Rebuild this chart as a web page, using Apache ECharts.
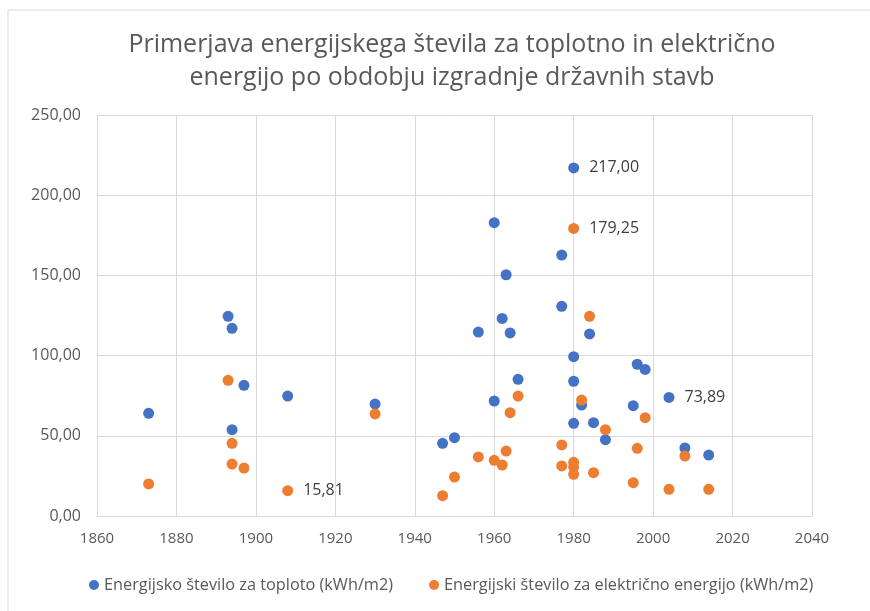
<!DOCTYPE html>
<html>
<head>
<meta charset="utf-8">
<script src="https://cdn.jsdelivr.net/npm/echarts@6/dist/echarts.min.js"></script>
<style>
    html, body { margin: 0; padding: 0; background: #fff; }
    #chart { width: 870px; height: 611px; }
</style>
</head>
<body>
<div id="chart"></div>
<script>
// 数据：建造年份 + 能耗
const heatYears = [1873, 1893, 1894, 1894, 1897, 1908, 1930, 1947, 1950, 1956, 1960, 1960, 1962, 1963, 1964, 1966,
    1977, 1977, 1980, 1980, 1980, 1980, 1982, 1984, 1985, 1988, 1995, 1996, 1998, 2004, 2008, 2014];
const heatValues = [64.0, 124.5, 117.0, 53.8, 81.5, 74.8, 69.8, 45.3, 48.8, 114.7, 182.9, 71.7, 123.2, 150.4, 114.1, 85.2,
    162.7, 130.7, 217.0, 99.3, 84.0, 57.8, 69.2, 113.5, 58.2, 47.6, 68.8, 94.6, 91.4, 73.89, 42.4, 38.0];

const elecYears = [1873, 1893, 1894, 1894, 1897, 1908, 1930, 1947, 1950, 1956, 1960, 1962, 1963, 1964, 1966,
    1977, 1977, 1980, 1980, 1980, 1980, 1982, 1984, 1985, 1988, 1995, 1996, 1998, 2004, 2008, 2014];
const elecValues = [20.0, 84.6, 45.3, 32.4, 29.9, 15.81, 63.6, 12.7, 24.3, 36.8, 34.7, 31.8, 40.5, 64.4, 74.8,
    44.3, 31.2, 179.25, 33.5, 30.5, 26.0, 72.3, 124.5, 27.0, 53.8, 20.8, 42.2, 61.3, 16.6, 37.4, 16.6];

// 带数据标签的点
const heatLabeled = [217.0, 73.89];
const elecLabeled = [179.25, 15.81];

const xTicks = {min: 1860, max: 2040, interval: 20};
const yTicks = {min: 0, max: 250, interval: 50};

const font = 'Open Sans';
const fmt = v => v.toFixed(2).replace('.', ',');

function buildPoints(years, values, labeled) {
    return years.map((y, i) => {
        let item = {value: [y, values[i]]};
        if (labeled.indexOf(values[i]) >= 0) {
            item.label = {
                show: true,
                position: 'right',
                distance: 10,
                formatter: p => fmt(p.value[1]),
                color: '#404040',
                fontSize: 16,
                fontFamily: font
            };
        }
        return item;
    });
}

let option = {
    animation: false,
    backgroundColor: '#fff',
    title: {
        text: 'Primerjava energijskega števila za toplotno in električno\nenergijo po obdobju izgradnje državnih stavb',
        left: 447,
        top: 23,
        textAlign: 'center',
        textStyle: {
            color: '#595959',
            fontSize: 25,
            fontWeight: 'normal',
            fontFamily: font,
            lineHeight: 33
        }
    },
    graphic: [{
        type: 'rect',
        shape: {x: 8, y: 10, width: 880, height: 620},
        style: {fill: 'none', stroke: '#d9d9d9', lineWidth: 1}
    }],
    legend: {
        bottom: 13,
        left: 84,
        icon: 'circle',
        itemWidth: 10,
        itemHeight: 10,
        itemGap: 36,
        textStyle: {color: '#595959', fontSize: 16.3, fontFamily: font}
    },
    grid: {
        left: 97,
        right: 58,
        top: 115,
        bottom: 95
    },
    xAxis: {
        type: 'value',
        min: xTicks.min,
        max: xTicks.max,
        interval: xTicks.interval,
        axisLine: {lineStyle: {color: '#d9d9d9'}},
        axisTick: {show: false},
        axisLabel: {color: '#595959', fontSize: 15, fontFamily: font, margin: 15, formatter: v => String(v)},
        splitLine: {lineStyle: {color: '#d9d9d9'}}
    },
    yAxis: {
        type: 'value',
        min: yTicks.min,
        max: yTicks.max,
        interval: yTicks.interval,
        axisLine: {show: true, lineStyle: {color: '#d9d9d9'}},
        axisTick: {show: false},
        axisLabel: {color: '#595959', fontSize: 16, fontFamily: font, margin: 16, formatter: fmt},
        splitLine: {lineStyle: {color: '#d9d9d9'}}
    },
    series: [
        {
            name: 'Energijsko število za toploto (kWh/m2)',
            type: 'scatter',
            symbolSize: 11,
            itemStyle: {color: '#4472C4', opacity: 1},
            data: buildPoints(heatYears, heatValues, heatLabeled)
        },
        {
            name: 'Energijski število za električno energijo (kWh/m2)',
            type: 'scatter',
            symbolSize: 11,
            itemStyle: {color: '#ED7D31', opacity: 1},
            data: buildPoints(elecYears, elecValues, elecLabeled)
        }
    ]
};

let chart = echarts.init(document.getElementById('chart'));
chart.setOption(option);
</script>
</body>
</html>
